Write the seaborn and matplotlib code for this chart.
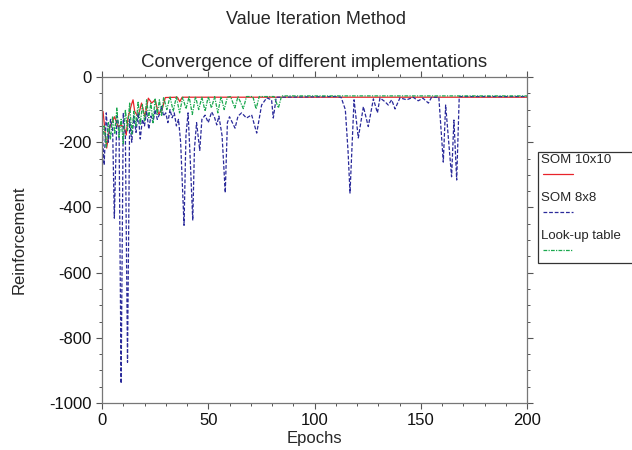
"""Value iteration convergence: SOM 10x10 vs SOM 8x8 vs look-up table."""
import matplotlib
matplotlib.use("Agg")
import matplotlib.pyplot as plt
from matplotlib.lines import Line2D
from matplotlib.patches import Rectangle
from matplotlib.ticker import MultipleLocator
import seaborn as sns

# --- data (breakpoints of each curve) ---
som10_epochs = [0, 0.5, 2.2, 3.7, 5.9, 7.5, 9, 10.6, 11.4, 12.2, 13.8, 14.6, 15.4, 17,
                18.6, 20.2, 21.8, 23.4, 25, 26.6, 28.2, 29.8, 35.5, 36.6, 37.7, 200]
som10_reward = [-106, -106, -218, -152, -122, -152, -147, -157, -178, -126, -86, -70, -106, -122,
                -80, -122, -65, -80, -70, -114, -101, -63, -62, -76, -62, -62]

som8_epochs = [0, 1, 2, 3, 4, 5, 5.8, 7, 8, 9, 10, 11, 12, 13, 14, 15, 16, 17, 18, 19, 20,
               21, 22, 23, 24, 25, 26, 27, 28, 29, 30, 31, 32, 33, 34, 35, 36, 37, 38.6,
               39.5, 40.5, 41.5, 42.7, 43.5, 44.5, 46, 47, 48.5, 50, 51.6, 53, 54, 55, 56.5,
               58, 59, 60, 62.6, 64, 65.7, 68, 70.4, 72.8, 75.1, 77.5, 79.8, 80.6, 82, 110,
               112.5, 114.5, 115.8, 116.7, 118.6, 120.6, 123, 125.3, 127.7, 129.6, 130.8,
               133.2, 134.7, 136.3, 137.9, 140.2, 143.4, 146.4, 148.8, 151, 153.6, 155.1,
               158.5, 160.6, 161.7, 164.5, 165.6, 166.9, 168.1, 200]
som8_reward = [-150, -270, -110, -200, -130, -160, -433, -120, -150, -940, -110, -180, -875,
               -130, -200, -120, -170, -110, -190, -130, -150, -105, -160, -120, -140, -100,
               -130, -115, -90, -120, -110, -140, -100, -125, -110, -150, -130, -200, -455,
               -180, -110, -250, -440, -220, -140, -225, -130, -117, -140, -107, -125, -147,
               -120, -180, -355, -140, -122, -157, -120, -110, -126, -116, -172, -86, -64,
               -70, -126, -62, -60, -62, -100, -230, -356, -70, -187, -91, -152, -67, -110,
               -64, -76, -86, -70, -98, -64, -70, -62, -73, -65, -80, -62, -62, -261, -86,
               -306, -132, -316, -60, -60]

table_epochs = [0, 1, 2, 3, 4, 5, 6, 7, 8, 9, 10, 11, 12, 13, 14, 15, 16, 17, 18, 19, 20,
                21, 22, 23, 24, 25, 26, 27, 28, 29, 30.5, 32, 33.5, 35, 36.5, 38, 39.5, 41,
                42.5, 44, 45.5, 47, 48.5, 50, 51.5, 53, 54.5, 56, 57.5, 59, 60.5, 62.5, 64,
                66.5, 68, 71, 72.5, 74, 81, 83, 84.5, 200]
table_reward = [-200, -150, -215, -140, -190, -120, -175, -95, -185, -130, -205, -100, -165,
                -80, -175, -105, -150, -75, -145, -85, -135, -70, -125, -80, -140, -65, -115,
                -70, -120, -62, -100, -60, -105, -60, -110, -62, -98, -60, -115, -60, -100,
                -62, -105, -60, -95, -60, -110, -60, -100, -62, -60, -95, -60, -97, -60, -60,
                -98, -60, -60, -95, -58, -58]

series_names = ["SOM 10x10", "SOM 8x8", "Look-up table"]
series_colors = ["#e8232a", "#2a2a9a", "#1aa84e"]
series_styles = ["-", (0, (3, 1.5)), (0, (3, 1, 1, 1))]


def main():
    sns.set_style("ticks")
    plt.rcParams["font.family"] = ["Liberation Sans", "DejaVu Sans"]
    plt.rcParams["axes.unicode_minus"] = False

    fig = plt.figure(figsize=(6.32, 4.5), dpi=100)
    ax = fig.add_axes([0.1614, 0.1044, 0.6725, 0.7245])

    data = [(som10_epochs, som10_reward), (som8_epochs, som8_reward),
            (table_epochs, table_reward)]
    for (x, y), color, ls in zip(data, series_colors, series_styles):
        sns.lineplot(x=x, y=y, ax=ax, color=color, linestyle=ls, linewidth=0.9,
                     estimator=None, sort=False)

    ax.set_xlim(0, 200)
    ax.set_ylim(-1000, 0)
    ax.xaxis.set_major_locator(MultipleLocator(50))
    ax.xaxis.set_minor_locator(MultipleLocator(10))
    ax.yaxis.set_major_locator(MultipleLocator(200))
    ax.yaxis.set_minor_locator(MultipleLocator(50))
    ax.tick_params(which="both", direction="out", top=True, right=True,
                   color="#555555", labelsize=12, labelcolor="#111111")
    ax.tick_params(which="major", length=4, width=0.8)
    ax.tick_params(which="minor", length=2.5, width=0.7)
    for s in ax.spines.values():
        s.set_visible(True)
        s.set_color("#777777")
        s.set_linewidth(0.9)

    ax.set_xlabel("Epochs", fontsize=12, labelpad=2)
    ax.set_ylabel("Reinforcement", fontsize=12, labelpad=16)
    ax.set_title("Convergence of different implementations", fontsize=13.5, pad=7)
    fig.suptitle("Value Iteration Method", fontsize=13, y=0.975)

    # legend box, drawn by hand: label above its line sample
    W, H = 632, 450
    fig.add_artist(Rectangle((538 / W, 1 - 263 / H), 100 / W, 111 / H,
                             transform=fig.transFigure, facecolor="white",
                             edgecolor="#333333", linewidth=0.9, clip_on=False))
    for i, (name, color, ls) in enumerate(zip(series_names, series_colors, series_styles)):
        ty = 160 + i * 38
        fig.text(541 / W, 1 - ty / H, name, fontsize=9.5, va="center", ha="left")
        fig.add_artist(Line2D([543 / W, 573 / W], [1 - (ty + 14) / H] * 2,
                              transform=fig.transFigure, color=color, linestyle=ls,
                              linewidth=0.9))

    fig.savefig("out.png", dpi=100)
    plt.close(fig)


if __name__ == "__main__":
    main()
